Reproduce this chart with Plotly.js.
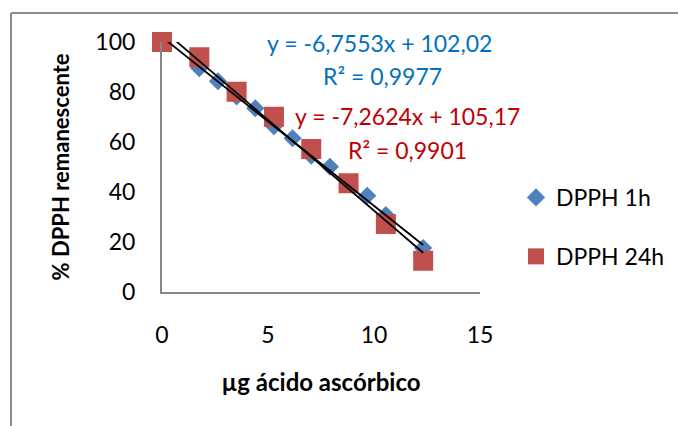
<!DOCTYPE html>
<html>
<head>
<meta charset="utf-8">
<script src="https://cdn.plot.ly/plotly-3.0.1.min.js"></script>
<style>html,body{margin:0;padding:0;background:#fff;}#chart{width:678px;height:426px;}</style>
</head>
<body>
<div id="chart"></div>
<script>
// Data
const x1h = [0, 1.76, 2.64, 3.52, 4.40, 5.28, 6.16, 7.04, 7.92, 8.80, 9.68, 10.56, 12.32];
const y1h = [100, 89.5, 84.3, 78.2, 73.5, 66.3, 61.5, 54.5, 50.1, 43.0, 38.5, 30.8, 17.6];
const x24h = [0, 1.76, 3.52, 5.28, 7.04, 8.80, 10.56, 12.32];
const y24h = [100, 93.9, 80.1, 70.1, 57.2, 43.5, 27.2, 12.5];
const series = ["DPPH 1h", "DPPH 24h"];
// trendline coefficients printed on the chart: [slope, intercept]
const fit1h = [-6.7553, 102.02];
const fit24h = [-7.2624, 105.17];
const eqLabels = ["y = -6,7553x + 102,02", "R² = 0,9977", "y = -7,2624x + 105,17", "R² = 0,9901"];
const xTicks = [0, 5, 10, 15];
const yTicks = [0, 20, 40, 60, 80, 100];

const FONT = "Lato, 'Open Sans', sans-serif";
const blue = "#4F81BD", red = "#C0504D";

function trend(fit, xs) {
  const xa = [Math.min(...xs), Math.max(...xs)];
  return {x: xa, y: xa.map(v => fit[0] * v + fit[1])};
}
const t1 = trend(fit1h, x1h), t24 = trend(fit24h, x24h);

const traces = [
  {x: x1h, y: y1h, name: series[0], mode: "markers", type: "scatter", cliponaxis: false,
   legendgroup: "a",
   marker: {symbol: "diamond", size: 14, color: blue}},
  {x: x24h, y: y24h, name: series[1], mode: "markers", type: "scatter", cliponaxis: false,
   legendgroup: "b",
   marker: {symbol: "square", size: 20, color: red}},
  {x: t1.x, y: t1.y, mode: "lines", type: "scatter", showlegend: false, hoverinfo: "skip",
   line: {color: "#000", width: 1.8}},
  {x: t24.x, y: t24.y, mode: "lines", type: "scatter", showlegend: false, hoverinfo: "skip",
   line: {color: "#000", width: 1.8}}
];

const W = 678, H = 426;
const L = 162, R = 480, T = 42, B = 292;
const px = v => (v - L) / (R - L);
const py = v => (B - v) / (B - T);

function ann(i, cx, cy, color) {
  return {x: px(cx), y: py(cy), xref: "paper", yref: "paper", text: eqLabels[i], showarrow: false,
          xanchor: "center", yanchor: "middle", font: {family: FONT, size: 23, color: color}};
}

const layout = {
  width: W, height: H,
  margin: {l: L, r: W - R, t: T, b: H - B, pad: 0},
  paper_bgcolor: "#fff", plot_bgcolor: "#fff",
  font: {family: FONT, size: 23, color: "#000"},
  showlegend: true,
  legend: {xref: "container", yref: "container", x: 516 / W, y: 1 - 176 / H,
           xanchor: "left", yanchor: "top", traceorder: "grouped",
           tracegroupgap: 26, font: {family: FONT, size: 23, color: "#000"},
           bgcolor: "rgba(0,0,0,0)", itemwidth: 30},
  xaxis: {range: [0, 15], tickvals: xTicks, ticktext: xTicks.map(String), showgrid: false,
          zeroline: false, showline: true, linecolor: "#868686", linewidth: 2, ticks: "",
          ticklabelstandoff: 21, tickfont: {family: FONT, size: 23, color: "#000"},
          title: {text: "µg ácido ascórbico", standoff: 28,
                  font: {family: FONT, size: 24, color: "#000", weight: "bold"}}},
  yaxis: {range: [0, 100], tickvals: yTicks, ticktext: yTicks.map(String), showgrid: false,
          zeroline: false, showline: true, linecolor: "#868686", linewidth: 2, ticks: "",
          ticklabelstandoff: 20, tickfont: {family: FONT, size: 23, color: "#000"},
          title: {text: "% DPPH remanescente", standoff: 20,
                  font: {family: FONT, size: 22, color: "#000", weight: "bold"}}},
  annotations: [
    ann(0, 379, 43.3, "#0070C0"),
    ann(1, 382.5, 75.5, "#0070C0"),
    ann(2, 407.5, 115.5, "#C00000"),
    ann(3, 407, 149.5, "#C00000")
  ],
  shapes: [
    {type: "line", xref: "paper", yref: "paper", x0: px(11), x1: px(690), y0: py(13), y1: py(13),
     line: {color: "#8c8c8c", width: 2}},
    {type: "line", xref: "paper", yref: "paper", x0: px(11), x1: px(11), y0: py(13), y1: py(440),
     line: {color: "#8c8c8c", width: 2}}
  ]
};

Plotly.newPlot("chart", traces, layout, {displayModeBar: false, staticPlot: true});
</script>
</body>
</html>
